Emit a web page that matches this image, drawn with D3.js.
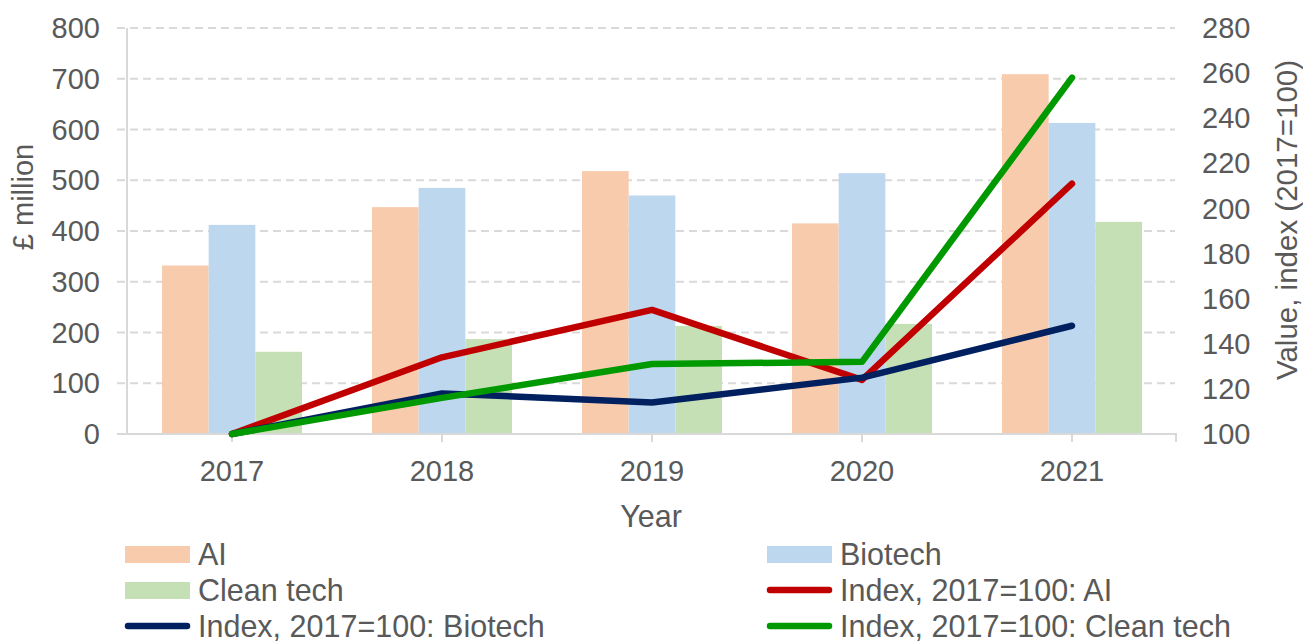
<!DOCTYPE html>
<html><head><meta charset="utf-8">
<script src="https://cdn.jsdelivr.net/npm/d3@7/dist/d3.min.js"></script>
<style>
html,body{margin:0;padding:0;background:#fff;}
svg{display:block;font-family:"Liberation Sans",Arial,sans-serif;}
</style></head>
<body>
<svg id="chart" width="1303" height="644"></svg>
<script>
const years = ["2017","2018","2019","2020","2021"];
const barSeries = ["AI","Biotech","Clean tech"];
const aiValues = [332, 447, 518, 415, 709];
const biotechValues = [412, 485, 470, 514, 613];
const cleanValues = [162, 187, 213, 217, 418];
const aiIndex = [100, 134, 155, 124, 211];
const biotechIndex = [100, 118, 114, 125, 148];
const cleanIndex = [100, 116, 131, 132, 258];
const leftTicks = [0,100,200,300,400,500,600,700,800];
const rightTicks = [100,120,140,160,180,200,220,240,260,280];

(function(){
const barColors = {"AI":"#F8CBAD","Biotech":"#BDD7EE","Clean tech":"#C5E0B4"};
const lineDefs = [
  {name:"Index, 2017=100: AI", values:aiIndex, color:"#C00000"},
  {name:"Index, 2017=100: Biotech", values:biotechIndex, color:"#002060"},
  {name:"Index, 2017=100: Clean tech", values:cleanIndex, color:"#009900"}
];
const barData = {"AI":aiValues,"Biotech":biotechValues,"Clean tech":cleanValues};

const svg = d3.select("#chart");
const pL = 127, pR = 1177, pT = 28, pB = 434;
const textColor = "#595959", axisColor = "#D9D9D9", fs = 29, lfs = 30.5;

const x = d3.scaleBand().domain(years).range([pL,pR]).padding(0);
const groupW = 140;
const xs = d3.scaleBand().domain(barSeries).range([0,groupW]).padding(0);
const yL = d3.scaleLinear().domain([0,800]).range([pB,pT]);
const yR = d3.scaleLinear().domain([100,280]).range([pB,pT]);

// gridlines
svg.append("g").selectAll("line").data(leftTicks.filter(d=>d>0)).join("line")
  .attr("x1",117).attr("x2",pR-2).attr("y1",d=>yL(d)).attr("y2",d=>yL(d))
  .attr("stroke",axisColor).attr("stroke-width",2).attr("stroke-dasharray","8,5");

// bars
const gb = svg.append("g");
barSeries.forEach(s=>{
  gb.selectAll(null).data(years.map((y,i)=>({y,v:barData[s][i]}))).join("rect")
    .attr("x",d=>x(d.y)+(x.bandwidth()-groupW)/2+xs(s))
    .attr("width",xs.bandwidth())
    .attr("y",d=>yL(d.v)).attr("height",d=>pB-yL(d.v))
    .attr("fill",barColors[s]);
});

// axes lines
svg.append("line").attr("x1",pL).attr("x2",pL).attr("y1",pT).attr("y2",pB)
  .attr("stroke",axisColor).attr("stroke-width",2);
svg.append("line").attr("x1",117).attr("x2",pR).attr("y1",pB).attr("y2",pB)
  .attr("stroke",axisColor).attr("stroke-width",2);
svg.append("g").selectAll("line").data(years).join("line")
  .attr("x1",d=>x(d)+x.bandwidth()/2).attr("x2",d=>x(d)+x.bandwidth()/2)
  .attr("y1",pB).attr("y2",pB+8).attr("stroke",axisColor).attr("stroke-width",2);
svg.append("line").attr("x1",pR-1).attr("x2",pR-1).attr("y1",pB).attr("y2",pB+8)
  .attr("stroke",axisColor).attr("stroke-width",2);

// lines
const lineGen = d3.line().x((d,i)=>x(years[i])+x.bandwidth()/2).y(d=>yR(d));
lineDefs.forEach(l=>{
  svg.append("path").datum(l.values).attr("d",lineGen).attr("fill","none")
    .attr("stroke",l.color).attr("stroke-width",6.5)
    .attr("stroke-linejoin","round").attr("stroke-linecap","round");
});

// tick labels
svg.append("g").selectAll("text").data(leftTicks).join("text")
  .attr("x",100).attr("y",d=>yL(d)).attr("dy","0.35em").attr("text-anchor","end")
  .attr("font-size",fs).attr("fill",textColor).text(d=>d);
svg.append("g").selectAll("text").data(rightTicks).join("text")
  .attr("x",1202).attr("y",d=>yR(d)).attr("dy","0.35em").attr("text-anchor","start")
  .attr("font-size",fs).attr("fill",textColor).text(d=>d);
svg.append("g").selectAll("text").data(years).join("text")
  .attr("x",d=>x(d)+x.bandwidth()/2).attr("y",481).attr("text-anchor","middle")
  .attr("font-size",fs).attr("fill",textColor).text(d=>d);

// axis titles
svg.append("text").attr("transform","translate(23,197) rotate(-90)")
  .attr("text-anchor","middle").attr("dy","0.35em").attr("font-size",fs).attr("fill",textColor).text("£ million");
svg.append("text").attr("transform","translate(1287,220) rotate(-90)")
  .attr("text-anchor","middle").attr("dy","0.35em").attr("font-size",fs+0.5).attr("fill",textColor).text("Value, index (2017=100)");
svg.append("text").attr("x",651).attr("y",527).attr("text-anchor","middle")
  .attr("font-size",lfs).attr("fill",textColor).text("Year");

// legend
const legendItems = [
  {name:"AI", type:"bar", color:barColors["AI"]},
  {name:"Biotech", type:"bar", color:barColors["Biotech"]},
  {name:"Clean tech", type:"bar", color:barColors["Clean tech"]},
  {name:lineDefs[0].name, type:"line", color:lineDefs[0].color},
  {name:lineDefs[1].name, type:"line", color:lineDefs[1].color},
  {name:lineDefs[2].name, type:"line", color:lineDefs[2].color}
];
const colX = [125, 767], rowY = [554, 590, 626];
legendItems.forEach((it,i)=>{
  const cx = colX[i%2], cy = rowY[Math.floor(i/2)];
  const g = svg.append("g");
  if(it.type==="bar"){
    g.append("rect").attr("x",cx).attr("y",cy-8).attr("width",65).attr("height",17).attr("fill",it.color);
  } else {
    g.append("line").attr("x1",cx+3).attr("x2",cx+62).attr("y1",cy).attr("y2",cy)
      .attr("stroke",it.color).attr("stroke-width",6.5).attr("stroke-linecap","round");
  }
  g.append("text").attr("x",cx+73).attr("y",cy).attr("dy","0.35em")
    .attr("font-size",lfs).attr("fill",textColor).text(it.name);
});
})();
</script>
</body></html>
